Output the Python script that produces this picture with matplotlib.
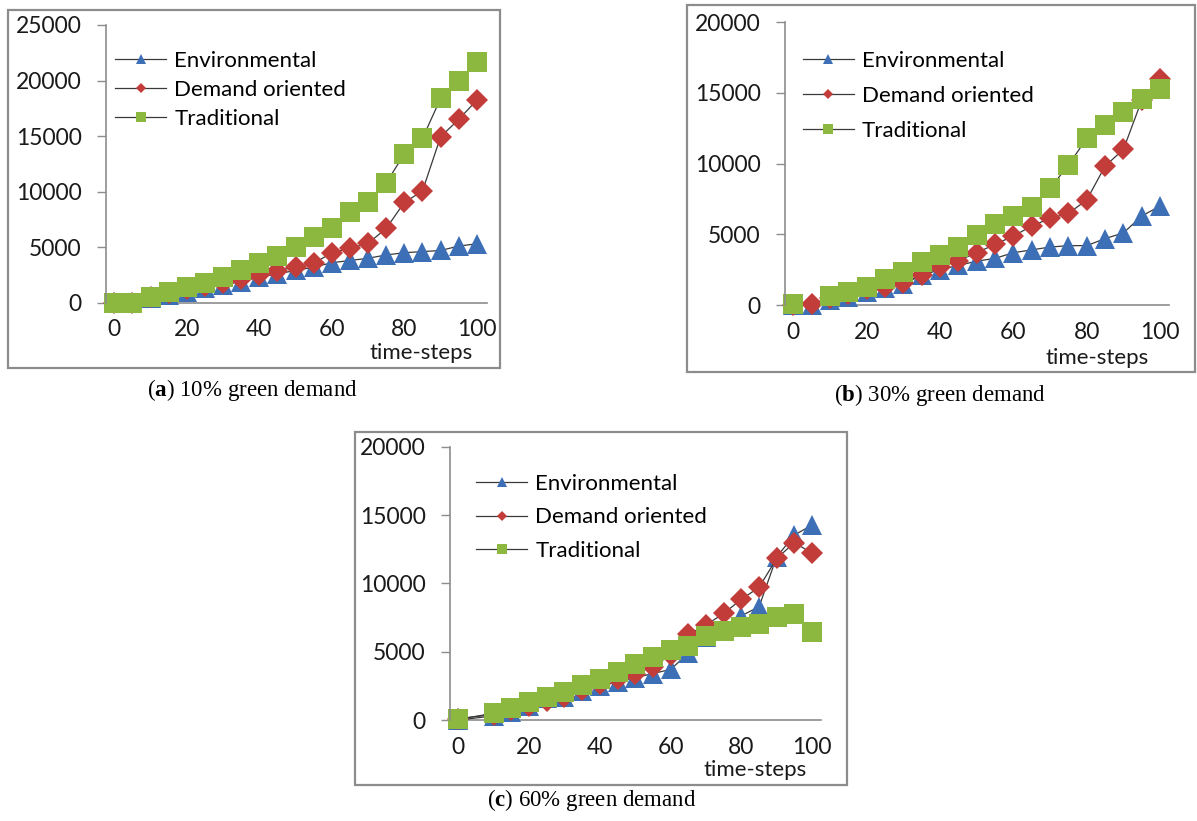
import numpy as np
import matplotlib.pyplot as plt
from matplotlib.patches import Rectangle

plt.rcParams['font.family'] = ['Lato', 'DejaVu Sans']
plt.rcParams['mathtext.fontset'] = 'custom'
plt.rcParams['mathtext.rm'] = 'Liberation Serif'
plt.rcParams['mathtext.bf'] = 'Liberation Serif:bold'

# ---- data ----
steps = [0, 5, 10, 15, 20, 25, 30, 35, 40, 45, 50, 55, 60, 65, 70, 75, 80, 85, 90, 95, 100]
steps_c = [0, 10, 15, 20, 25, 30, 35, 40, 45, 50, 55, 60, 65, 70, 75, 80, 85, 90, 95, 100]

env_a = [0, 0, 400, 700, 1000, 1300, 1600, 1900, 2300, 2600, 2900, 3200, 3600, 3800, 4000,
         4300, 4500, 4600, 4700, 5100, 5300]
dem_a = [0, 0, 500, 850, 1200, 1500, 1800, 2100, 2490, 2880, 3240, 3540, 4500, 4890, 5340,
         6690, 9030, 10050, 14940, 16500, 18240]
trad_a = [0, 0, 540, 1000, 1380, 1800, 2340, 2940, 3540, 4200, 5040, 5940, 6690, 8190, 9090,
          10800, 13380, 14790, 18390, 19980, 21690]

env_b = [0, 0, 350, 600, 900, 1200, 1500, 2100, 2500, 2800, 3100, 3300, 3700, 3900, 4100,
         4200, 4200, 4700, 5100, 6300, 7000]
dem_b = [0, 70, 500, 800, 1100, 1300, 1550, 2120, 2710, 3140, 3700, 4290, 4880, 5590, 6130,
         6480, 7430, 9830, 11010, 14500, 15990]
trad_b = [70, np.nan, 640, 940, 1250, 1820, 2360, 3070, 3540, 4130, 4950, 5730, 6300, 6910, 8250,
          9900, 11790, 12730, 13680, 14550, 15260]

env_c = [0, 300, 600, 1000, 1600, 1700, 2100, 2500, 2800, 3100, 3400, 3700, 4880, 6050,
         6660, 7630, 8290, 11950, 13540, 14270]
dem_c = [100, 400, 700, 1000, 1400, 1700, 2200, 2600, 3000, 3400, 3900, 4760, 6270, 6950,
         7800, 8830, 9710, 11830, 12980, 12200]
trad_c = [50, 490, 900, 1340, 1710, 2070, 2560, 3000, 3540, 4070, 4590, 5120, 5440, 6170,
          6510, 6830, 7020, 7540, 7780, 6410]

labels = ['Environmental', 'Demand oriented', 'Traditional']
captions = [r'($\mathbf{a}$) 10% green demand',
            r'($\mathbf{b}$) 30% green demand',
            r'($\mathbf{c}$) 60% green demand']

W, H = 1197, 821
fig = plt.figure(figsize=(W / 100, H / 100), dpi=100)


def px_rect(x0, y0, x1, y1):
    # pixel box (top-left origin) -> figure fraction [l, b, w, h]
    return [x0 / W, 1 - y1 / H, (x1 - x0) / W, (y1 - y0) / H]


def panel(box, axbox, xs, env, dem, trad, ymax, xlim, leg_xy, leg_space, ts_xy, cap, cap_xy):
    fig.add_artist(Rectangle((box[0] / W, 1 - box[3] / H), (box[2] - box[0]) / W,
                             (box[3] - box[1]) / H, transform=fig.transFigure,
                             fill=False, edgecolor='#8c8c8c', lw=1.6))
    ax = fig.add_axes(px_rect(*axbox))
    line = dict(color='#3a3a3a', lw=0.9, markeredgewidth=0, clip_on=False)
    ax.plot(xs, env, marker='^', markersize=15, markerfacecolor='#3d6fb6', label=labels[0], **line)
    ax.plot(xs, dem, marker='D', markersize=11, markerfacecolor='#c23c3a', label=labels[1], **line)
    ax.plot(xs, trad, marker='s', markersize=14.5, markerfacecolor='#8db83f', label=labels[2], **line)
    ax.set_xlim(*xlim)
    ax.set_ylim(0, ymax)
    ax.set_xticks([0, 20, 40, 60, 80, 100])
    ax.set_yticks(np.arange(0, ymax + 1, 5000))
    for s in ['top', 'right']:
        ax.spines[s].set_visible(False)
    for s in ['left', 'bottom']:
        ax.spines[s].set_color('#8c8c8c')
        ax.spines[s].set_linewidth(1.2)
    ax.spines['bottom'].set_zorder(0)
    ax.tick_params(axis='y', length=6.5, width=1.0, color='#8c8c8c', pad=11,
                   labelsize=16.5, labelcolor='#1a1a1a')
    ax.tick_params(axis='x', length=0, pad=12, labelsize=16.5, labelcolor='#1a1a1a')
    ax.patch.set_alpha(0)
    ax.legend(loc='upper left', bbox_to_anchor=leg_xy, frameon=False, fontsize=16,
              markerscale=0.5, handlelength=2.3, handletextpad=0.37,
              labelspacing=leg_space, borderpad=0, borderaxespad=0)
    fig.text(ts_xy[0] / W, 1 - ts_xy[1] / H, 'time-steps', ha='center', va='center',
             fontsize=16, color='#1a1a1a')
    fig.text(cap_xy[0] / W, 1 - cap_xy[1] / H, cap, ha='center', va='center',
             fontsize=16.5, family='Liberation Serif')


panel((8, 10, 500, 368), (106, 25, 487, 302.7), steps, env_a, dem_a, trad_a, 25000,
      (-2.3, 102.8), (0.024, 0.906), 0.40, (421, 353), captions[0], (252, 390))
panel((687, 5, 1195, 372), (785, 22.3, 1169.3, 305), steps, env_b, dem_b, trad_b, 20000,
      (-2.26, 102.5), (0.046, 0.899), 0.68, (1097, 358), captions[1], (940, 395))
panel((355, 432, 847, 785), (450, 446.7, 821, 720), steps_c, env_c, dem_c, trad_c, 20000,
      (-2.34, 102.5), (0.070, 0.900), 0.60, (755, 770), captions[2], (592, 800))

fig.savefig('out.png', dpi=100)
